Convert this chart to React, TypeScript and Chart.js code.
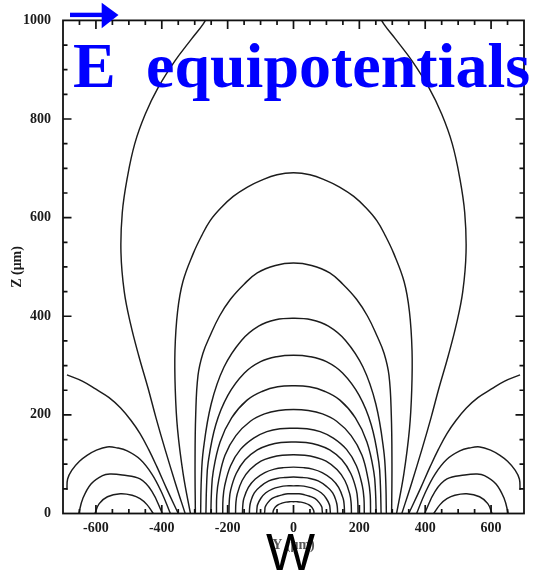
import React, { useEffect, useRef } from "react";
import { Chart, registerables } from "chart.js";

Chart.register(...registerables);

// ---- axis data ----
const X_MIN = -700;
const X_MAX = 700;
const Y_MIN = 0;
const Y_MAX = 1000;
const xTickValues = [-600, -400, -200, 0, 200, 400, 600];
const yTickValues = [0, 200, 400, 600, 800, 1000];
const xAxisTitle = "Y (\u03bcm)";
const yAxisTitle = "Z (\u03bcm)";
const titleLetter = "E";
const titleWord = "equipotentials";
const overlayLetter = "W";

// ---- equipotential curves (x in µm, z in µm) ----
const arch1: number[][] = [[-62,0],[-62,4],[-60,8],[-55,13],[-46,18],[-35,21],[-23,23],[-12,24],[0,24],[12,24],[23,23],[35,21],[46,18],[55,13],[60,8],[62,4],[62,0]];
const arch2: number[][] = [[-88,0],[-87,7],[-86,13],[-78,22],[-66,30],[-49,35],[-33,38],[-17,40],[0,40],[17,40],[33,38],[49,35],[66,30],[78,22],[86,13],[87,7],[88,0]];
const arch3: number[][] = [[-112,0],[-111,10],[-109,18],[-99,31],[-84,42],[-63,50],[-42,54],[-22,56],[0,56],[22,56],[42,54],[63,50],[84,42],[99,31],[109,18],[111,10],[112,0]];
const arch4: number[][] = [[-134,0],[-133,13],[-130,24],[-119,42],[-100,55],[-75,66],[-50,71],[-26,73],[0,74],[26,73],[50,71],[75,66],[100,55],[119,42],[130,24],[133,13],[134,0]];
const arch5: number[][] = [[-155,0],[-154,16],[-151,30],[-137,53],[-116,70],[-87,83],[-58,90],[-30,93],[0,94],[30,93],[58,90],[87,83],[116,70],[137,53],[151,30],[154,16],[155,0]];
const arch6: number[][] = [[-176,0],[-175,21],[-171,39],[-156,67],[-132,89],[-99,106],[-66,114],[-34,118],[0,119],[34,118],[66,114],[99,106],[132,89],[156,67],[171,39],[175,21],[176,0]];
const arch7: number[][] = [[-196,0],[-195,25],[-191,47],[-174,81],[-147,109],[-110,129],[-74,139],[-38,144],[0,145],[38,144],[74,139],[110,129],[147,109],[174,81],[191,47],[195,25],[196,0]];
const arch8: number[][] = [[-215,0],[-214,30],[-209,56],[-191,97],[-161,130],[-121,153],[-81,166],[-41,172],[0,173],[41,172],[81,166],[121,153],[161,130],[191,97],[209,56],[214,30],[215,0]];
const arch9: number[][] = [[-234,0],[-233,37],[-227,68],[-208,118],[-175,158],[-131,187],[-88,202],[-45,209],[0,211],[45,209],[88,202],[131,187],[175,158],[208,118],[227,68],[233,37],[234,0]];
const arch10: number[][] = [[-251,0],[-249,45],[-244,84],[-223,145],[-188,194],[-141,230],[-94,248],[-48,257],[0,259],[48,257],[94,248],[141,230],[188,194],[223,145],[244,84],[249,45],[251,0]];
const arch11: number[][] = [[-266,0],[-264,56],[-259,104],[-236,180],[-199,240],[-149,285],[-100,308],[-51,318],[0,321],[51,318],[100,308],[149,285],[199,240],[236,180],[259,104],[264,56],[266,0]];
const arch12: number[][] = [[-282,0],[-280,69],[-274,128],[-250,222],[-211,297],[-158,351],[-106,380],[-54,393],[0,396],[54,393],[106,380],[158,351],[211,297],[250,222],[274,128],[280,69],[282,0]];
const arch13: number[][] = [[-298,0],[-299,100],[-297,200],[-290,280],[-275,325],[-253,361],[-225,400],[-192,434],[-150,465],[-110,488],[-55,503],[0,508],[55,503],[110,488],[150,465],[192,434],[225,400],[253,361],[275,325],[290,280],[297,200],[299,100],[298,0]];
const arch14: number[][] = [[-313,0],[-335,80],[-352,170],[-359,250],[-360,330],[-352,410],[-336,470],[-304,528],[-280,562],[-253,594],[-220,620],[-183,643],[-140,662],[-100,675],[-50,687],[0,691],[50,687],[100,675],[140,662],[183,643],[220,620],[253,594],[280,562],[304,528],[336,470],[352,410],[360,330],[359,250],[352,170],[335,80],[313,0]];

const outerLeft: number[][] = [[-329,0],[-358,60],[-390,130],[-418,195],[-442,255],[-470,320],[-495,385],[-514,450],[-524,530],[-520,610],[-505,680],[-482,750],[-450,810],[-410,865],[-360,918],[-310,962],[-275,992],[-255,1015]];
const outerRight: number[][] = [[329,0],[358,60],[390,130],[418,195],[442,255],[470,320],[495,385],[514,450],[524,530],[520,610],[505,680],[482,750],[450,810],[410,865],[360,918],[310,962],[275,992],[255,1015]];

const edgeLeft: number[][] = [[-688,281],[-640,268],[-600,252],[-560,235],[-525,214],[-495,190],[-466,162],[-440,130],[-415,95],[-385,50],[-350,0]];
const edgeRight: number[][] = [[688,281],[640,268],[600,252],[560,235],[525,214],[495,190],[466,162],[440,130],[415,95],[385,50],[350,0]];

const sideOuterLeft: number[][] = [[-688,48],[-686,70],[-673,88],[-650,106],[-627,118],[-600,128],[-566,135],[-535,133],[-505,127],[-466,110],[-430,80],[-400,42],[-374,0]];
const sideOuterRight: number[][] = [[688,48],[686,70],[673,88],[650,106],[627,118],[600,128],[566,135],[535,133],[505,127],[466,110],[430,80],[400,42],[374,0]];
const sideMidLeft: number[][] = [[-652,0],[-640,30],[-615,60],[-580,77],[-557,80],[-520,78],[-466,70],[-430,45],[-398,0]];
const sideMidRight: number[][] = [[652,0],[640,30],[615,60],[580,77],[557,80],[520,78],[466,70],[430,45],[398,0]];
const sideInnerLeft: number[][] = [[-603,0],[-590,20],[-565,34],[-526,40],[-490,37],[-466,30],[-445,18],[-426,0]];
const sideInnerRight: number[][] = [[603,0],[590,20],[565,34],[526,40],[490,37],[466,30],[445,18],[426,0]];

const allCurves = [
  arch1, arch2, arch3, arch4, arch5, arch6, arch7, arch8, arch9, arch10, arch11, arch12, arch13, arch14,
  outerLeft, outerRight, edgeLeft, edgeRight,
  sideOuterLeft, sideOuterRight, sideMidLeft, sideMidRight, sideInnerLeft, sideInnerRight,
];

const X_MINOR = 50;
const Y_MINOR = 50;
const X_MAJOR = 200;
const Y_MAJOR = 200;

const frameTicksPlugin = {
  id: "frameTicks",
  afterDatasetsDraw(chart: any) {
    const { ctx, chartArea: a, scales } = chart;
    const xs = scales.x;
    const ys = scales.y;
    ctx.save();
    ctx.strokeStyle = "#111";
    ctx.lineWidth = 1.7;
    ctx.beginPath();
    for (let v = X_MIN + X_MINOR; v < X_MAX; v += X_MINOR) {
      const px = xs.getPixelForValue(v);
      const len = v % X_MAJOR === 0 ? 8.5 : 4.5;
      ctx.moveTo(px, a.bottom);
      ctx.lineTo(px, a.bottom - len);
      ctx.moveTo(px, a.top);
      ctx.lineTo(px, a.top + len);
    }
    for (let v = Y_MIN + Y_MINOR; v < Y_MAX; v += Y_MINOR) {
      const py = ys.getPixelForValue(v);
      const len = v % Y_MAJOR === 0 ? 8.5 : 4.5;
      ctx.moveTo(a.left, py);
      ctx.lineTo(a.left + len, py);
      ctx.moveTo(a.right, py);
      ctx.lineTo(a.right - len, py);
    }
    ctx.stroke();
    ctx.lineWidth = 1.8;
    ctx.strokeRect(a.left, a.top, a.right - a.left, a.bottom - a.top);
    ctx.restore();
  },
  afterDraw(chart: any) {
    const { ctx } = chart;
    ctx.save();
    // blue vector arrow
    ctx.fillStyle = "#0000ff";
    ctx.fillRect(70, 12.7, 33, 4.4);
    ctx.beginPath();
    ctx.moveTo(101.7, 2.7);
    ctx.lineTo(118.5, 15);
    ctx.lineTo(101.7, 28.3);
    ctx.closePath();
    ctx.fill();
    // title
    ctx.font = 'bold 64px "Liberation Serif", "Times New Roman", serif';
    ctx.textBaseline = "alphabetic";
    ctx.textAlign = "left";
    ctx.fillText(titleLetter, 73, 87);
    ctx.fillText(titleWord, 146, 87);
    // overlay letter
    ctx.fillStyle = "#000";
    ctx.font = '52px "Liberation Sans", Arial, sans-serif';
    ctx.fillText(overlayLetter, 266, 570);
    ctx.restore();
  },
};

export default function App() {
  const canvasRef = useRef<HTMLCanvasElement | null>(null);

  useEffect(() => {
    const canvas = canvasRef.current;
    if (!canvas) return;
    const datasets = allCurves.map((pts) => ({
      data: pts.map(([x, y]) => ({ x, y })),
      showLine: true,
      borderColor: "#1c1c1c",
      borderWidth: 1.45,
      pointRadius: 0,
      pointHoverRadius: 0,
      tension: 0.4,
      fill: false,
    }));
    const tickFont = { family: '"Liberation Serif", "Times New Roman", serif', size: 14, weight: "bold" as const };
    const chart = new Chart(canvas, {
      type: "scatter",
      data: { datasets },
      plugins: [frameTicksPlugin],
      options: {
        responsive: false,
        animation: false,
        events: [],
        layout: { padding: { top: 13.5, right: 10, bottom: 0, left: 0 } },
        plugins: { legend: { display: false }, tooltip: { enabled: false }, title: { display: false } },
        scales: {
          x: {
            type: "linear",
            min: X_MIN,
            max: X_MAX,
            grid: { display: false, drawTicks: false },
            border: { display: false },
            afterBuildTicks: (s: any) => {
              s.ticks = xTickValues.map((v) => ({ value: v }));
            },
            afterFit: (s: any) => {
              s.height = 58.5;
            },
            ticks: {
              font: tickFont,
              color: "#1a1a1a",
              padding: 6,
              maxRotation: 0,
              autoSkip: false,
              callback: (v: any) => String(v),
            },
            title: {
              display: true,
              text: xAxisTitle,
              font: { family: '"Liberation Serif", serif', size: 14, weight: "bold" },
              color: "#555",
              padding: { top: 0, bottom: 18 },
            },
          },
          y: {
            type: "linear",
            min: Y_MIN,
            max: Y_MAX,
            grid: { display: false, drawTicks: false },
            border: { display: false },
            afterBuildTicks: (s: any) => {
              s.ticks = yTickValues.map((v) => ({ value: v }));
            },
            afterFit: (s: any) => {
              s.width = 63;
            },
            ticks: {
              font: tickFont,
              color: "#1a1a1a",
              padding: 12,
              autoSkip: false,
              callback: (v: any) => String(v),
            },
            title: {
              display: true,
              text: yAxisTitle,
              font: { family: '"Liberation Serif", serif', size: 14, weight: "bold" },
              color: "#1a1a1a",
              padding: { top: 9, bottom: 0 },
            },
          },
        },
      },
    } as any);
    return () => chart.destroy();
  }, []);

  return (
    <canvas
      ref={canvasRef}
      width={534}
      height={572}
      style={{ position: "absolute", left: 0, top: 0, display: "block", background: "#fff" }}
    />
  );
}
